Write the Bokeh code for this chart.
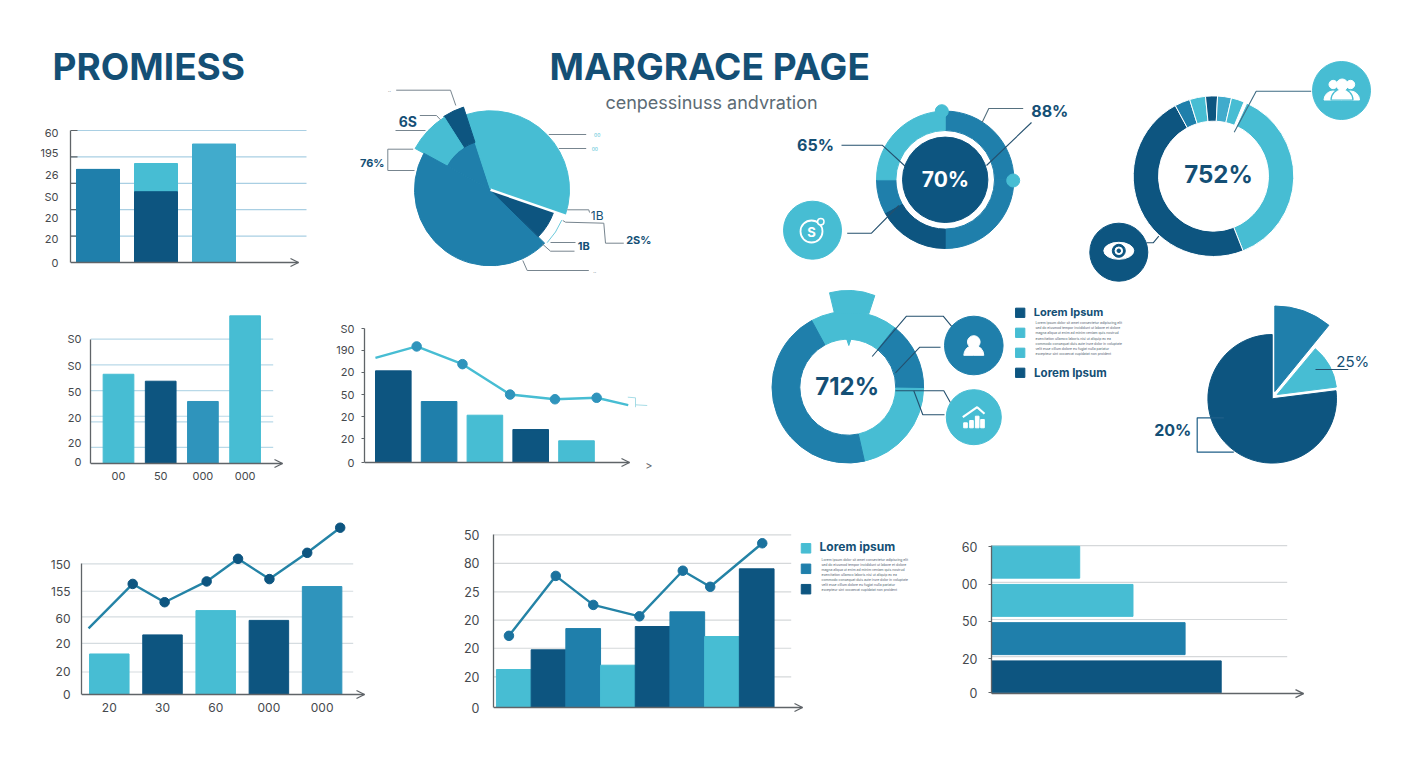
from math import pi

import numpy as np
from bokeh.core.properties import value
from bokeh.embed import file_html
from bokeh.layouts import column
from bokeh.models import Arrow, FixedTicker, OpenHead, Range1d
from bokeh.plotting import figure
from bokeh.resources import INLINE

DARK = "#0D5580"
MID = "#1F7FAB"
MID2 = "#2F94BC"
SOFT = "#41ABCC"
LIGHT = "#47BDD3"
INK = "#144F75"
AXIS = "#5F6468"
LABEL = "#45494D"
FONT = "Inter"

# top left bars, stacked
C1_LOWER = [70.5, 53.6, 89.6]
C1_UPPER = [0, 21.4, 0]
C1_GRID = [20, 40, 60, 80, 100]
C1_TICKS = [0, 18, 34, 50, 66, 82.6, 100]
C1_LABELS = ["0", "20", "20", "S0", "26", "195", "60"]

# middle left bars
C2_VALUES = [71.8, 66.2, 49.9, 118.8]
C2_GRID = [12.9, 33.5, 38, 58.7, 79.4, 100]
C2_TICKS = [1.6, 16.1, 37, 57.9, 78.8, 100]
C2_LABELS = ["0", "20", "20", "50", "S0", "S0"]
C2_CATS = ["00", "50", "000", "000"]

# middle bars with falling line
C3_VALUES = [68.4, 45.5, 35.3, 24.6, 16.2]
C3_LINE_X = [-0.39, 0.51, 1.51, 2.55, 3.53, 4.44, 5.13]
C3_LINE_Y = [78.1, 86.6, 73.4, 50.7, 47.2, 48.3, 42.8]
C3_TICKS = [0, 17.7, 34.3, 50.7, 67.2, 83.6, 100]
C3_LABELS = ["0", "20", "20", "50", "20", "190", "S0"]

# bottom left bars with rising line
C5_VALUES = [31, 45.6, 64.2, 56.7, 82.6]
C5_LINE_X = [-0.39, 0.44, 1.04, 1.83, 2.42, 3.01, 3.72, 4.34]
C5_LINE_Y = [50.6, 84.6, 70.6, 86.5, 103.8, 88.3, 108.4, 127.6]
C5_GRID = [17.2, 39.1, 59.4, 79, 100]
C5_TICKS = [0, 17.4, 38.7, 58.3, 78.5, 99.2]
C5_LABELS = ["0", "20", "20", "60", "155", "150"]
C5_CATS = ["20", "30", "60", "000", "000"]

# bottom middle bars with line
C6_VALUES = [22, 33.4, 45.7, 24.5, 46.9, 55.4, 41.1, 80.3]
C6_LINE_X = [-0.14, 1.21, 2.29, 3.62, 4.87, 5.66, 7.16]
C6_LINE_Y = [41.5, 76.2, 59.4, 52.8, 79.2, 69.9, 95.1]
C6_GRID = [17.7, 34.3, 50.6, 67, 83.4, 100]
C6_TICKS = [0, 17.5, 34.4, 50.6, 67, 83.4, 99.8]
C6_LABELS = ["0", "20", "20", "20", "25", "80", "50"]

# bottom right horizontal bars, bottom one first
C7_VALUES = [77.6, 65.4, 47.8, 29.8]
C7_GRID = [0.53, 1.5, 2.47, 3.43]
C7_TICKS = [-0.41, 0.47, 1.46, 2.42, 3.4]
C7_LABELS = ["0", "20", "50", "00", "60"]

# pies and donuts, share of the full circle in percent
PIE_A = [35.3, 4, 8, 45.6, 7]
DONUT_B = [25, 25, 17, 8, 25]
DONUT_C = [37.2, 48.1, 3.1, 3.2, 2.4, 2.8, 2.6]
DONUT_D = [18.6, 14.6, 21.2, 45.6]
PIE_E = [77, 12.1, 10.9]

TINY_TEXT = [
    "Lorem ipsum dolor sit amet consectetur adipiscing elit",
    "sed do eiusmod tempor incididunt ut labore et dolore",
    "magna aliqua ut enim ad minim veniam quis nostrud",
    "exercitation ullamco laboris nisi ut aliquip ex ea",
    "commodo consequat duis aute irure dolor in voluptate",
    "velit esse cillum dolore eu fugiat nulla pariatur",
    "excepteur sint occaecat cupidatat non proident",
]

PAD = 10
PAD_BOTTOM = 28


def Y(py):
    return 768 - py


def place(p, left, top):
    p.styles = {"position": "absolute", "left": f"{left}px", "top": f"{top}px"}


def panel(left, top, right, bottom, x_range, y_range, pad_left=44):
    # the frame reaches past the axes so the arrow and the x labels are not clipped
    p = figure(frame_width=right - left + PAD, frame_height=bottom - top + PAD_BOTTOM,
               x_range=Range1d(*x_range), y_range=Range1d(*y_range),
               output_backend="svg", toolbar_location=None,
               min_border_left=pad_left, min_border_right=0, min_border_top=0,
               min_border_bottom=0, background_fill_color=None,
               border_fill_color=None, outline_line_color=None)
    p.grid.visible = False
    place(p, left - pad_left, top)
    return p


def style_axes(p, y_ticks, y_labels, y_bounds, x_bounds, x_ticks=(), x_labels=(), size="11px",
               standoff=12, tick_out=0):
    p.yaxis.ticker = FixedTicker(ticks=list(y_ticks))
    p.yaxis.major_label_overrides = dict(zip(y_ticks, y_labels))
    p.yaxis.bounds = y_bounds
    p.xaxis.ticker = FixedTicker(ticks=list(x_ticks))
    p.xaxis.major_label_overrides = dict(zip(x_ticks, x_labels))
    p.xaxis.bounds = x_bounds
    p.xaxis.fixed_location = y_bounds[0]
    for ax in (p.xaxis, p.yaxis):
        ax.axis_line_color = AXIS
        ax.axis_line_width = 1.3
        ax.major_tick_line_color = None
        ax.minor_tick_line_color = None
        ax.major_tick_in = 0
        ax.major_tick_out = 0
        ax.major_label_text_font = FONT
        ax.major_label_text_font_size = size
        ax.major_label_text_color = LABEL
    p.xaxis.major_label_standoff = 8
    p.yaxis.major_label_standoff = standoff - tick_out
    if tick_out:
        p.yaxis.major_tick_out = tick_out
        p.yaxis.major_tick_line_color = AXIS
    span = x_bounds[1] - x_bounds[0]
    p.add_layout(Arrow(end=OpenHead(size=8, line_color=AXIS, line_width=1.3),
                       x_start=x_bounds[1] - span * 0.01, x_end=x_bounds[1],
                       y_start=y_bounds[0], y_end=y_bounds[0],
                       line_color=AXIS, line_width=1.3))


def bar_chart(left, top, right, bottom, grid_top, first, step, width, tops, colors,
              y_ticks, y_labels, grid=(), grid_right=None, grid_color="#B9D9E8",
              x_labels=(), size="11px", stub=0, standoff=12, tick_out=0):
    scale = (bottom - grid_top) / 100
    x_start, x_end = (left - first) / step, (right - first) / step
    p = panel(left, top, right, bottom, (x_start, x_end + PAD / step),
              (-PAD_BOTTOM / scale, (bottom - top) / scale))
    xs = np.arange(len(tops))
    if len(grid):
        end = (grid_right - first) / step
        p.segment(x_start, grid, end, grid, line_color=grid_color, line_width=1.2)
    if stub:
        p.segment(x_start, grid, x_start + stub / step, grid, line_color=AXIS, line_width=1.2)
    p.vbar(x=xs, top=tops, width=width / step, color=colors)
    style_axes(p, y_ticks, y_labels, (0, 100), (x_start, x_end), xs[:len(x_labels)].tolist(), x_labels, size,
               standoff, tick_out)
    return p


def add_line(p, xs, ys, line_color, marker_color, first=0, last=None):
    p.line(xs, ys, line_color=line_color, line_width=2.4)
    p.scatter(xs[first:last], ys[first:last], size=9.5, color=marker_color)


def slices(values, start_deg, clockwise=True):
    bounds = np.cumsum([0] + list(values)) * 3.6
    if clockwise:
        edges = start_deg - bounds
        return np.radians(edges[1:]), np.radians(edges[:-1])
    edges = start_deg + bounds
    return np.radians(edges[:-1]), np.radians(edges[1:])


def leader(p, points, color="#24506E", width=1.1):
    p.line([a for a, _ in points], [Y(b) for _, b in points], line_color=color, line_width=width)


def label(p, x, y, text, size, color=INK, style="bold", align="center", font=FONT):
    p.text([x], [Y(y)], text=[text], text_font=value(font), text_font_size=size, text_font_style=style,
           text_color=color, text_align=align, text_baseline="middle")


def disc(p, x, y, r, color):
    p.circle([x], [Y(y)], radius=r, color=color)


def draw_header(p):
    label(p, 52, 65.5, "PROMIESS", "37px", align="left")
    label(p, 549, 65.5, "MARGRACE PAGE", "37px", align="left")
    label(p, 711, 102, "cenpessinuss andvration", "18px", "#5C6B75", "normal")


def draw_pie_a(p):
    cx, cy = 490, Y(189.3)
    start, end = slices(PIE_A, -19, clockwise=False)
    outer = [79, 87, 86, 76, 67]
    inner = [0, 50, 50, 0, 0]
    colors = [LIGHT, DARK, LIGHT, MID, DARK]
    p.wedge(cx, cy, radius=50, start_angle=start[1], end_angle=end[2], color=MID)
    p.annular_wedge(cx, cy, inner_radius=inner, outer_radius=outer, start_angle=start, end_angle=end,
                    color=colors)
    p.line([cx, cx + 80 * np.cos(start[0])], [cy, cy + 80 * np.sin(start[0])], line_color="white", line_width=2.5)
    p.arc(cx, cy, radius=77.5, start_angle=np.radians(-43), end_angle=np.radians(-23),
          line_color=LIGHT, line_width=0.8)
    gray = "#77858F"
    for pts in ([(395.7, 89.7), (450, 89.7), (455.3, 105)],
                [(419.3, 115), (436, 115), (440, 119.3)],
                [(395, 130), (425, 130)],
                [(412.7, 148.7), (387.3, 148.7), (387.3, 170), (414, 170)],
                [(548.3, 134), (585.7, 134)],
                [(558.3, 148), (585.7, 148)],
                [(566.7, 209.3), (588.3, 209.3), (589, 212)],
                [(562.3, 220), (565, 221.7), (603.3, 222.7), (605, 242.7), (623.3, 242.7)],
                [(550, 242), (575, 242)],
                [(541.7, 243.3), (550, 250.7), (574, 250.7)],
                [(522.3, 260), (526.7, 270), (588.3, 270)]):
        leader(p, pts, gray, 1)
    label(p, 407.3, 120.7, "6S", "14px")
    label(p, 371.7, 162, "76%", "11px")
    label(p, 596.7, 215, "1B", "12px", style="normal")
    label(p, 638.3, 239, "2S%", "11px")
    label(p, 583.3, 245.7, "1B", "11px")
    label(p, 389, 89.7, "..", "5px", gray, "normal")
    label(p, 596.7, 134, "00", "5px", LIGHT, "normal")
    label(p, 594.3, 148.3, "00", "5px", LIGHT, "normal")
    label(p, 594.3, 270, "..", "5px", gray, "normal")


def draw_donut_b(p):
    cx, cy = 944.7, Y(179.3)
    start, end = slices(DONUT_B, 90)
    p.annular_wedge(cx, cy, inner_radius=49.3, outer_radius=68.7, start_angle=start, end_angle=end,
                    color=[MID, MID, DARK, MID, LIGHT])
    disc(p, 944.7, 179.3, 42.7, DARK)
    disc(p, 941.3, 110.7, 6.5, LIGHT)
    disc(p, 1012.7, 180, 6.5, LIGHT)
    label(p, 945, 178.5, "70%", "21px", "white")
    label(p, 815, 144.3, "65%", "16px")
    label(p, 1049.3, 110, "88%", "16px")
    leader(p, [(841, 144.7), (881.7, 144.7), (905, 166)])
    leader(p, [(1022.7, 108), (988.3, 108), (981.7, 121.7)], "#55707F")
    leader(p, [(1031, 122), (986, 165)])
    leader(p, [(846.7, 232.7), (871, 232.7), (898.3, 205)])
    disc(p, 812, 229.7, 29, LIGHT)
    p.circle([811], [Y(231)], radius=11, fill_color=None, line_color="white", line_width=1.8)
    p.circle([820.3], [Y(221.3)], radius=3.2, fill_color=LIGHT, line_color="white", line_width=1.5)
    label(p, 811, 231, "S", "13px", "white")


def draw_donut_c(p):
    cx, cy = 1213, Y(175.7)
    start, end = slices(DONUT_C, 65.5)
    p.annular_wedge(cx, cy, inner_radius=55, outer_radius=80.3, start_angle=start, end_angle=end,
                    color=[LIGHT, DARK, MID, LIGHT, DARK, SOFT, LIGHT], line_color="white", line_width=1)
    label(p, 1218, 173.5, "752%", "24px")
    leader(p, [(1233.7, 131.7), (1255.7, 90.7), (1310.7, 90.7)], "#3F6C84")
    leader(p, [(1158.3, 235.7), (1152.7, 242.3), (1146, 242.3)])
    disc(p, 1341, 90, 29, LIGHT)
    disc(p, 1332.7, 84, 4.2, "white")
    disc(p, 1350, 84, 4.2, "white")
    p.wedge([1332.5, 1350], Y(99.5), radius=9, start_angle=0, end_angle=pi, color="white")
    p.wedge(1341.5, Y(99.5), radius=11, start_angle=0, end_angle=pi, color="white", line_color=LIGHT, line_width=1.2)
    disc(p, 1341.7, 84.3, 5.8, "white")
    disc(p, 1118.3, 251.7, 29, DARK)
    p.ellipse(1118.3, Y(250.3), width=30, height=17, color="white")
    disc(p, 1118.3, 250.3, 6.5, DARK)
    disc(p, 1118.3, 250.3, 3.8, "white")
    disc(p, 1118.3, 250.3, 1.8, DARK)


def draw_donut_d(p):
    cx, cy = 847.3, Y(386.7)
    start, end = slices(DONUT_D, 118.5)
    p.annular_wedge(cx, cy, inner_radius=48, outer_radius=75.8, start_angle=start, end_angle=end,
                    color=[LIGHT, MID, LIGHT, MID])
    top = [(829, 292.3), (840, 290.3), (851.7, 290), (863, 291.5), (874.3, 295), (868.3, 313.3), (834, 313)]
    p.patch([a for a, _ in top], [Y(b) for _, b in top], color=LIGHT)
    notch = [(846, 338), (850.7, 338), (848.3, 345)]
    p.patch([a for a, _ in notch], [Y(b) for _, b in notch], color=LIGHT)
    label(p, 846.7, 386, "712%", "24px")
    leader(p, [(871.7, 356), (906, 315.7), (942.7, 315.7), (956.7, 332.7)])
    leader(p, [(895, 372.3), (919.3, 346.7), (940, 346.7)])
    leader(p, [(895, 390.3), (943.3, 390.3), (950, 402.3)])
    leader(p, [(913.3, 390.3), (922.3, 414.3), (944, 414.3)])
    disc(p, 973.3, 345, 29.3, MID)
    disc(p, 973.3, 341.5, 6.3, "white")
    p.wedge(973.3, Y(354.8), radius=10, start_angle=0, end_angle=pi, color="white")
    disc(p, 973.3, 416.7, 27.5, LIGHT)
    p.vbar(x=[965, 971, 976.7, 982], bottom=Y(427.3), top=[Y(422.3), Y(420), Y(415.7), Y(419)],
           width=3.6, color="white")
    leader(p, [(962.3, 416.7), (976.7, 406.7), (984, 413.3)], "white", 2.2)
    # legend next to the donut
    p.rect(1019.7, [Y(312.3), Y(332.3), Y(352.3), Y(372.3)], width=9.3, height=9.3,
           color=[DARK, LIGHT, LIGHT, DARK])
    label(p, 1033.3, 311, "Lorem Ipsum", "11px", align="left")
    label(p, 1033.6, 372.3, "Lorem Ipsum", "11.5px", align="left")
    ys = [Y(322.7 + 5.1 * i) for i in range(len(TINY_TEXT))]
    p.text([1035] * len(ys), ys, text=TINY_TEXT, text_font=value(FONT), text_font_size="3.4px",
           text_color="#50626E", text_baseline="middle")


def draw_pie_e(p):
    start, end = slices(PIE_E, 90, clockwise=False)
    p.wedge(1271.7, Y(398.3), radius=64.3, start_angle=start[0], end_angle=end[0], color=DARK)
    p.wedge(1276.7, Y(394), radius=59.6, start_angle=start[1], end_angle=end[1] - 0.01, color=LIGHT)
    p.wedge(1274.3, Y(391), radius=85.5, start_angle=start[2], end_angle=end[2], color=MID)
    leader(p, [(1315, 369), (1347.7, 369)])
    leader(p, [(1223.3, 417.3), (1196.7, 417.3), (1196.7, 451.7), (1233.3, 451.7)], "#1F5F88", 1.2)
    label(p, 1352.3, 360.7, "25%", "15px", style="normal")
    label(p, 1172.3, 429.7, "20%", "16px")


def draw_legend_c6(p):
    p.rect(805.5, [Y(547.8), Y(568.3), Y(588.7)], width=9.5, height=9.5, color=[LIGHT, MID, DARK])
    label(p, 819, 546, "Lorem ipsum", "12px", align="left")
    ys = [Y(559 + 5.1 * i) for i in range(len(TINY_TEXT))]
    p.text([821] * len(ys), ys, text=TINY_TEXT, text_font=value(FONT), text_font_size="3.4px",
           text_color="#50626E", text_baseline="middle")


def draw_c3_extras(p):
    label(p, 648.5, 465, ">", "11px", AXIS, "normal")
    leader(p, [(627.3, 396.7), (635, 397.3), (635, 406.7)], "#8FD3E0", 0.8)
    leader(p, [(635, 404.3), (646.7, 405)], "#8FD3E0", 0.8)


# the canvas frame starts at the title's left edge, 44px in from the page margin
canvas = figure(frame_width=1348, frame_height=752, x_range=Range1d(52, 1400), y_range=Range1d(8, 760),
                output_backend="svg", toolbar_location=None,
                min_border_left=44, min_border_right=0, min_border_top=0, min_border_bottom=0,
                outline_line_color=None)
canvas.grid.visible = False
canvas.xaxis.visible = False
canvas.yaxis.visible = False
place(canvas, 8, 8)
draw_header(canvas)
draw_pie_a(canvas)
draw_donut_b(canvas)
draw_donut_c(canvas)
draw_donut_d(canvas)
draw_pie_e(canvas)
draw_legend_c6(canvas)
draw_c3_extras(canvas)

c1 = bar_chart(70, 125, 298, 262, 130, 97.5, 58, 43,
               np.add(C1_LOWER, C1_UPPER).tolist(), [MID, LIGHT, SOFT],
               C1_TICKS, C1_LABELS, C1_GRID, 306, "#A9CFE3", stub=7)
c1.vbar(x=[0, 1, 2], top=C1_LOWER, width=43 / 58, color=[MID, DARK, SOFT])

c2 = bar_chart(90, 310, 282, 463, 338.7, 118, 42.2, 30.7, C2_VALUES, [LIGHT, DARK, MID2, LIGHT],
               C2_TICKS, C2_LABELS, C2_GRID, 272.7, x_labels=C2_CATS, standoff=9)

c3 = bar_chart(364, 320, 629, 462, 328, 392.8, 45.8, 35.6, C3_VALUES, [DARK, MID, LIGHT, DARK, LIGHT],
               C3_TICKS, C3_LABELS, standoff=10, tick_out=3)
add_line(c3, C3_LINE_X, C3_LINE_Y, LIGHT, MID2, first=1, last=-1)

c5 = bar_chart(81, 515, 364, 694, 563.3, 108.8, 53.2, 39.5, C5_VALUES, [LIGHT, DARK, LIGHT, DARK, MID2],
               C5_TICKS, C5_LABELS, C5_GRID, 352.7, "#D5DCE0", x_labels=C5_CATS, size="12px", standoff=11)
add_line(c5, C5_LINE_X, C5_LINE_Y, "#2483A6", DARK, first=1)

c6 = bar_chart(493, 525, 802, 707, 534.3, 513.3, 34.7, 34.7, C6_VALUES,
               [LIGHT, DARK, MID, LIGHT, DARK, MID, LIGHT, DARK],
               C6_TICKS, C6_LABELS, C6_GRID, 790.7, "#D5D8DA", size="12.5px", standoff=14)
add_line(c6, C6_LINE_X, C6_LINE_Y, "#2483A6", "#1B729E")

x_scale = 2.96
x_end = (1303 - 991) / x_scale
y_low = (676.6 - 693.3) / 38.3
c7 = panel(991, 540, 1303, 693, (0, x_end + PAD / x_scale), (y_low - PAD_BOTTOM / 38.3, (676.6 - 540) / 38.3))
c7.segment(0, C7_GRID, (1286.7 - 991) / x_scale, C7_GRID, line_color="#D5D8DA", line_width=1.2)
c7.hbar(y=np.arange(4), left=0, right=C7_VALUES, height=32 / 38.3, color=[DARK, MID, LIGHT, LIGHT])
style_axes(c7, C7_TICKS, C7_LABELS, (y_low, 3.43), (0, x_end), size="12.5px", standoff=14, tick_out=3)

root = column(canvas, c1, c2, c3, c5, c6, c7, width=1392, height=752)
open("out.html", "w").write(file_html(root, INLINE))
